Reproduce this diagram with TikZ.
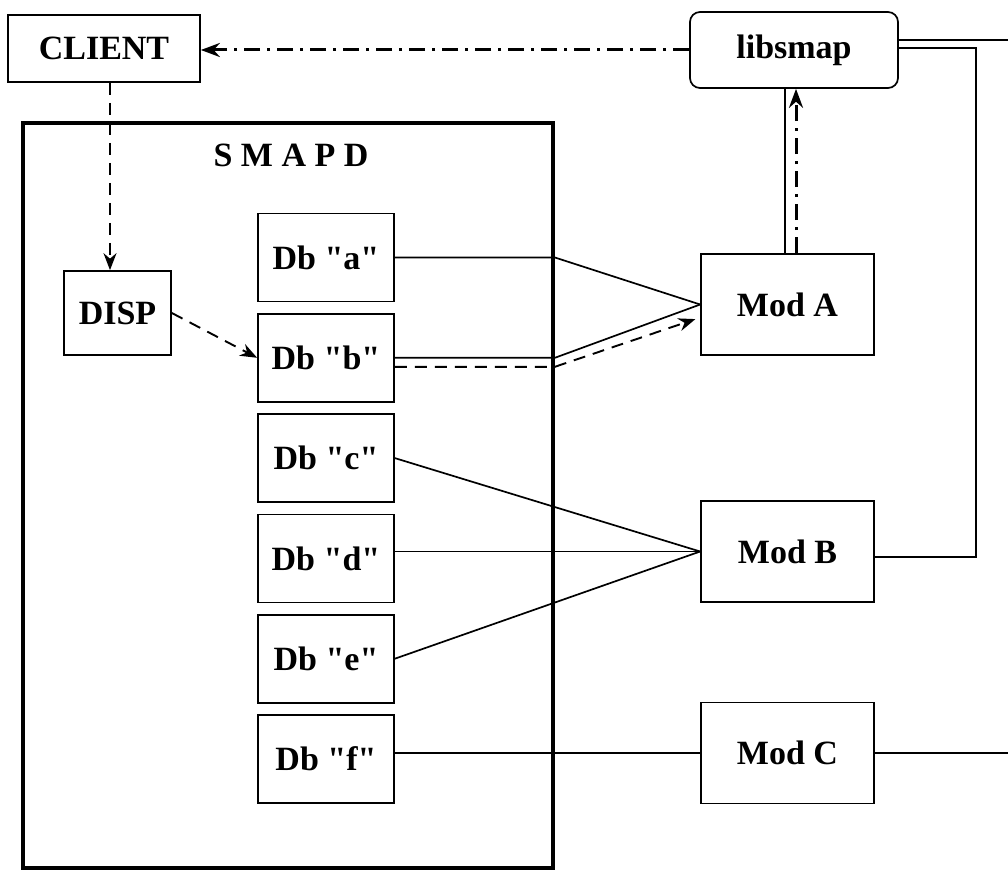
\documentclass[tikz,border=0pt]{standalone}
\usepackage{fontspec}
\setmainfont{Liberation Serif}
\usetikzlibrary{arrows.meta, positioning}
\newcommand{\dbname}[1]{Db \textquotedbl#1\textquotedbl}

\begin{document}
\begin{tikzpicture}[x=1pt, y=-1pt, node distance=100.3pt, thick,
        every node/.style={font=\fontsize{34}{40}\selectfont\bfseries},
        box/.style={draw, rectangle, line width=1.7pt, inner sep=0pt},
        dbbox/.style={box, minimum width=136pt, minimum height=88pt},
        modbox/.style={box, minimum width=173pt, minimum height=101pt},
        link/.style={line width=1.7pt},
        dlink/.style={line width=1.9pt, dash pattern=on 12pt off 8pt, -{Stealth[length=17pt, width=13pt]}},
        dclink/.style={line width=3pt, dash pattern=on 16pt off 7pt on 3pt off 7pt, -{Stealth[length=19pt, width=14pt]}}]
        \useasboundingbox (0,0) rectangle (1008,869);

        \node[draw, line width=3.8pt, inner sep=0pt, minimum width=530pt, minimum height=745pt] (smapd) at (288,495.5) {};
        \node (smapdlabel) at (291,155) {S M A P D};

        \node[box, minimum width=192pt, minimum height=67pt] (client) at (104,48.5) {CLIENT};
        \node[box, rounded corners=10pt, minimum width=208pt, minimum height=76pt] (libsmap) at (794,50) {libsmap};
        \node[box, minimum width=107pt, minimum height=84pt] (disp) at (117.5,313) {DISP};

        \node[dbbox] (dba) at (326,257.5) {\dbname{a}};
        \node[dbbox, below of=dba] (dbb) {\dbname{b}};
        \node[dbbox, below of=dbb] (dbc) {\dbname{c}};
        \node[dbbox, below of=dbc] (dbd) {\dbname{d}};
        \node[dbbox, below of=dbd] (dbe) {\dbname{e}};
        \node[dbbox, below of=dbe] (dbf) {\dbname{f}};

        \node[modbox] (moda) at (787.5,304.5) {Mod A};
        \node[modbox] (modb) at (787.5,551.5) {Mod B};
        \node[modbox] (modc) at (787.5,753) {Mod C};

        \coordinate (libout) at (1008,40);
        \coordinate (modcout) at (1008,753);
        \coordinate (dbbtap) at ([yshift=-9pt]dbb.east);

        \draw[link] (dba.east) -- (smapd.east |- dba.east) -- (moda.west);
        \draw[link] (dbb.east) -- (smapd.east |- dbb.east) -- (moda.west);
        \draw[link] (dbc.east) -- (modb.west);
        \draw[link] (modb.west -| dbd.east) -- (modb.west);
        \draw[link] (dbe.east) -- (modb.west);
        \draw[link] (modc.west -| dbf.east) -- (modc.west);
        \draw[link] (modc.east) -- (modcout);

        \draw[dlink, shorten >=5pt] (dbbtap) -- (smapd.east |- dbbtap) -- ([yshift=-13pt]moda.west);
        \draw[dlink] (disp.east) -- (dbb.west);
        \draw[dlink] ([xshift=6pt]client.south) -- ([xshift=6pt]client.south |- disp.north);

        \draw[dclink] (libsmap.west) -- (libsmap.west -| client.east);
        \draw[link] ([xshift=-2.5pt]moda.north) -- ([xshift=-2.5pt]moda.north |- libsmap.south);
        \draw[dclink] ([xshift=8.5pt]moda.north) -- ([xshift=8.5pt]moda.north |- libsmap.south);

        \draw[link] ([yshift=10pt]libsmap.east) -- (libout);
        \draw[link] ([yshift=2pt]libsmap.east) -| ([xshift=101pt, yshift=-5.5pt]modb.east) -- ([yshift=-5.5pt]modb.east);
    \end{tikzpicture}
\end{document}
